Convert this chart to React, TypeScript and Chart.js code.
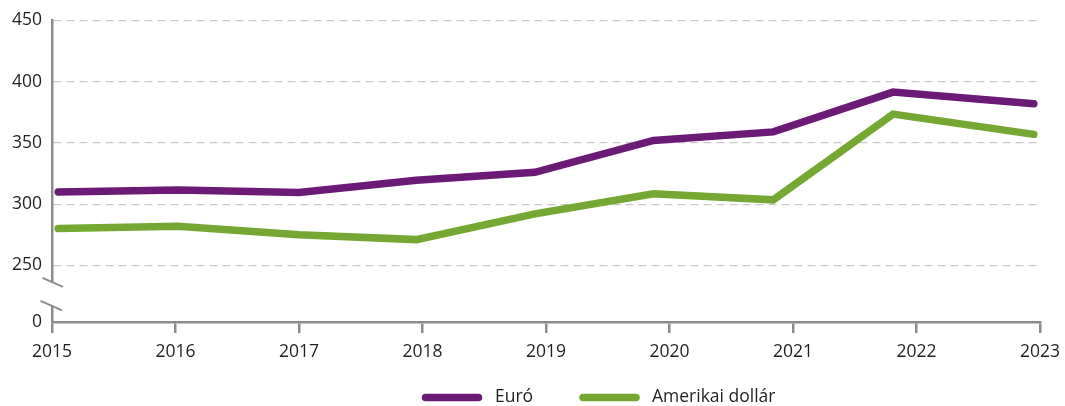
import React, { useEffect, useRef } from "react";
import { Chart, registerables } from "chart.js";

Chart.register(...registerables);

// Observation positions (fractional years) as plotted
const years = [2015.05, 2016.02, 2017.0, 2017.95, 2018.91, 2019.87, 2020.84, 2021.81, 2022.95];
const euroValues = [310, 311.5, 309.5, 319.5, 326, 352, 359, 391.5, 382];
const dollarValues = [280, 282, 275, 271, 292, 308.5, 303.5, 373.5, 357];
const seriesNames = ["Euró", "Amerikai dollár"];
const seriesColors = ["#6b1a75", "#74a832"];
const yTickValues = [250, 300, 350, 400, 450];
const xTickYears = [2015, 2016, 2017, 2018, 2019, 2020, 2021, 2022, 2023];
const Y_BREAK_MIN = 203.7; // position on the scale shown as "0" below the axis break

const FONT = "'Open Sans', 'Noto Sans', sans-serif";
const TEXT = "#231f20";
const AXIS = "#8c8c8c";

const breakPlugin = {
  id: "axisBreak",
  afterDraw(chart: any) {
    const { ctx } = chart;
    const y = chart.scales.y;
    const x0 = y.right;
    const pTop = y.getPixelForValue(250);
    const gapTop = pTop + 17;
    const gapBot = pTop + 40;
    ctx.save();
    ctx.fillStyle = "#ffffff";
    ctx.fillRect(x0 - 4, gapTop, 8, gapBot - gapTop);
    ctx.strokeStyle = AXIS;
    ctx.lineWidth = 2;
    ctx.beginPath();
    ctx.moveTo(x0 - 9.5, gapTop - 4.5);
    ctx.lineTo(x0 + 11, gapTop + 4.5);
    ctx.moveTo(x0 - 11.5, gapBot - 4.5);
    ctx.lineTo(x0 + 10, gapBot + 5);
    ctx.stroke();
    ctx.restore();
  },
};

const legendPlugin = {
  id: "customLegend",
  afterDraw(chart: any) {
    const { ctx } = chart;
    const cy = 397.5;
    const items = [
      { x1: 425.5, x2: 478.5, tx: 495 },
      { x1: 583, x2: 636, tx: 652 },
    ];
    ctx.save();
    ctx.font = `17.5px ${FONT}`;
    ctx.textBaseline = "middle";
    ctx.fillStyle = TEXT;
    items.forEach((it, i) => {
      ctx.strokeStyle = seriesColors[i];
      ctx.lineWidth = 7.5;
      ctx.lineCap = "round";
      ctx.beginPath();
      ctx.moveTo(it.x1, cy);
      ctx.lineTo(it.x2, cy);
      ctx.stroke();
      ctx.fillText(seriesNames[i], it.tx, cy);
    });
    ctx.restore();
  },
};

export default function App() {
  const ref = useRef<HTMLCanvasElement | null>(null);
  useEffect(() => {
    document.body.style.margin = "0";
    const canvas = ref.current;
    if (!canvas) return;
    const chart = new Chart(canvas, {
      type: "line",
      data: {
        datasets: [euroValues, dollarValues].map((vals, i) => ({
          label: seriesNames[i],
          data: vals.map((v, j) => ({ x: years[j], y: v })),
          borderColor: seriesColors[i],
          backgroundColor: seriesColors[i],
          borderWidth: 7.5,
          borderCapStyle: "round" as const,
          borderJoinStyle: "miter" as const,
          pointRadius: 0,
          tension: 0,
          fill: false,
        })),
      },
      options: {
        responsive: false,
        animation: false,
        events: [],
        layout: { padding: { top: 19, right: 25, left: 0, bottom: 34 } },
        plugins: {
          legend: { display: false },
          tooltip: { enabled: false },
          title: { display: false },
        },
        scales: {
          x: {
            type: "linear",
            min: 2015,
            max: 2023,
            afterBuildTicks(scale: any) {
              scale.ticks = xTickYears.map((v) => ({ value: v }));
            },
            afterFit(scale: any) {
              scale.height = 50;
              scale.paddingRight = 0;
              scale.paddingLeft = 0;
            },
            ticks: {
              font: { family: FONT, size: 17.5 },
              color: TEXT,
              padding: 9,
              maxRotation: 0,
              callback: (v: any) => String(v),
            },
            grid: {
              drawOnChartArea: false,
              drawTicks: true,
              tickLength: 11,
              color: AXIS,
              lineWidth: 2.5,
            },
            border: { display: true, color: AXIS, width: 2.5 },
          },
          y: {
            type: "linear",
            min: Y_BREAK_MIN,
            max: 450,
            afterBuildTicks(scale: any) {
              scale.ticks = [{ value: Y_BREAK_MIN }, ...yTickValues.map((v) => ({ value: v }))];
            },
            afterFit(scale: any) {
              scale.width = 52;
            },
            ticks: {
              font: { family: FONT, size: 17.5 },
              color: TEXT,
              padding: 10,
              callback: (v: any) => (v < 250 ? "0" : String(v)),
            },
            grid: {
              drawTicks: false,
              color: (c: any) => (c.tick && c.tick.value < 250 ? "rgba(0,0,0,0)" : "#c9c9c9"),
              lineWidth: 1.2,
            },
            border: { display: true, color: AXIS, width: 2.5, dash: [8, 5] },
          },
        },
      },
      plugins: [breakPlugin, legendPlugin],
    } as any);
    return () => chart.destroy();
  }, []);
  return <canvas ref={ref} width={1065} height={406} style={{ display: "block" }} />;
}
